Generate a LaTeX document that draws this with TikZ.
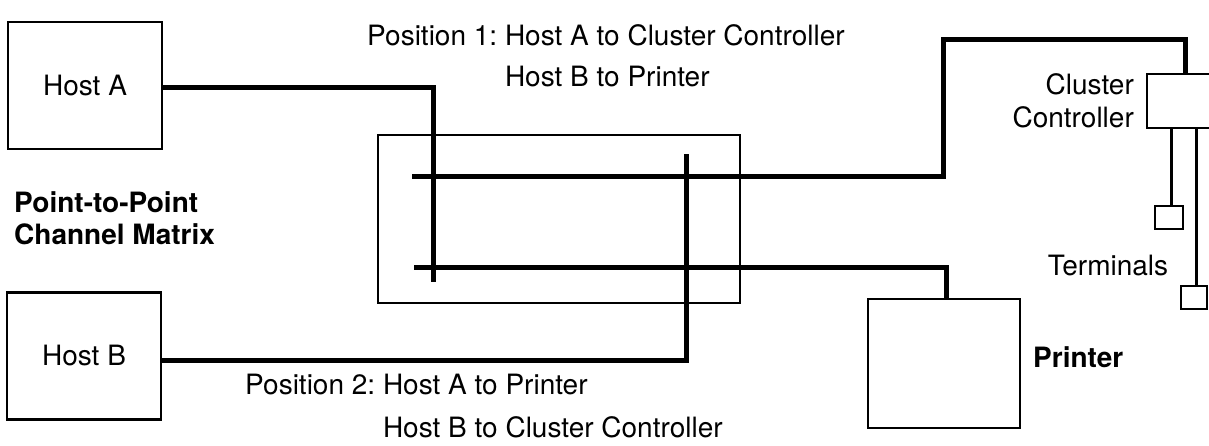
\documentclass[tikz,border=0pt]{standalone}
\usepackage{fontspec}
\setmainfont{TeX Gyre Heros}
\begin{document}
\begin{tikzpicture}[x=1pt,y=-1pt,
  unit/.style={draw,line width=2.7pt,inner sep=0pt},
  link/.style={line width=5pt},
  drop/.style={line width=3pt},
  lbl/.style={inner sep=0pt,font=\fontsize{28}{33}\selectfont\frenchspacing},
  blbl/.style={lbl,font=\fontsize{28}{33}\selectfont\bfseries}]
\useasboundingbox (0,0) rectangle (1209,446);

% equipment boxes
\node[unit,minimum width=154pt,minimum height=127pt] (hosta) at (85,85.5) {};
\node[lbl] at (hosta.center) {Host A};
\node[unit,minimum width=154pt,minimum height=127pt] (hostb) at (84,356) {};
\node[lbl] at (hostb.center) {Host B};
\node[unit,minimum width=362pt,minimum height=168pt] (matrix) at (559,219) {};
\node[unit,minimum width=152pt,minimum height=129pt] (printer) at (944,363.5) {};
\node[unit,minimum width=66pt,minimum height=54pt] (cc) at (1180,101) {};
\node[unit,minimum width=28pt,minimum height=23pt] (t1) at (1169,217.5) {};
\node[unit,minimum width=26pt,minimum height=23pt] (t2) at (1194,297.5) {};

% switch contacts inside the matrix
\coordinate (a0) at (433,88);
\coordinate (a1) at (433,282);
\coordinate (b0) at (686,154);
\coordinate (b1) at (686,360);
\coordinate (p0) at (412,177);
\coordinate (q0) at (414,267);

% Host A path
\draw[link] (hosta.east |- a0) -- (a0) -- (a1);
% Host B path
\draw[link] (hostb.east |- b1) -- (b1) -- (b0);
% cluster controller path
\draw[link] (p0) -- (943,177) -- (943,40) -- (1185,40) -- (1185,0 |- cc.north);
% printer path
\draw[link] (q0) -- (946,267) -- (946,0 |- printer.north);

% terminal drops
\draw[drop] (1171,0 |- cc.south) -- (1171,0 |- t1.north);
\draw[drop] (1196,0 |- cc.south) -- (1196,0 |- t2.north);

% labels
\node[lbl,anchor=base west] (pos1a) at (367,46) {Position 1: Host A to Cluster Controller};
\node[lbl,anchor=base west] (pos1b) at (367,87) {\phantom{Position 1: }Host B to Printer};
\node[lbl,anchor=base west] (pos2a) at (245,394) {Position 2: Host A to Printer};
\node[lbl,anchor=base west] (pos2b) at (245,437) {\phantom{Position 2: }Host B to Cluster Controller};
\node[blbl,anchor=base west] (ptp1) at (14,213) {Point-to-Point};
\node[blbl,anchor=base west] (ptp2) at (14,245) {Channel Matrix};
\node[lbl,anchor=base east] (cc1) at (1134,95) {Cluster};
\node[lbl,anchor=base east] (cc2) at (1134,128) {Controller};
\node[lbl,anchor=base] (term) at (1108,275) {Terminals};
\node[blbl,anchor=base west] (prn) at (1033,367) {Printer};
\end{tikzpicture}
\end{document}
